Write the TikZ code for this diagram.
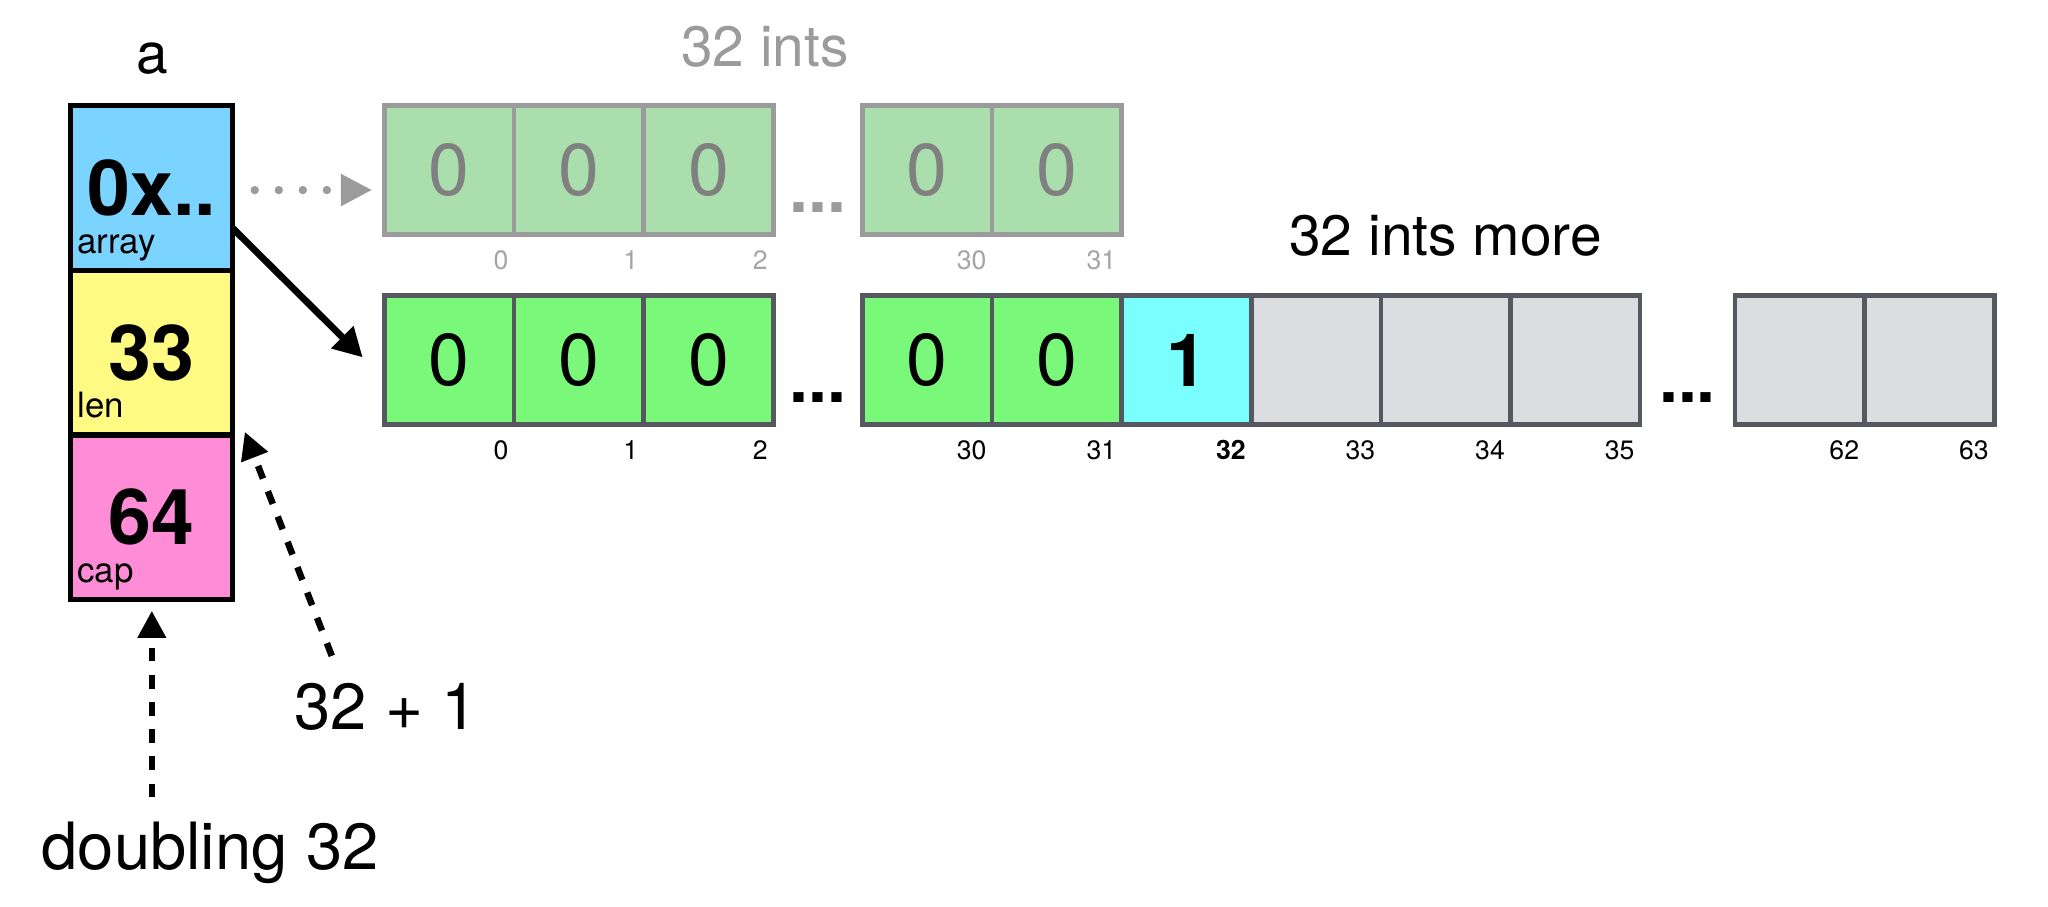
\documentclass[tikz,border=0pt]{standalone}
\usepackage{fontspec}
\setmainfont{TeX Gyre Heros}
\usepackage{tikz}
\usetikzlibrary{positioning}
\usetikzlibrary{arrows.meta}
\usetikzlibrary{calc}
\usepackage{color}

\definecolor{ptrblue}{RGB}{122,212,255}
\definecolor{lenyellow}{RGB}{255,250,130}
\definecolor{cappink}{RGB}{255,140,215}
\definecolor{zerogreen}{RGB}{122,248,122}
\definecolor{newcyan}{RGB}{122,255,255}
\definecolor{freegray}{RGB}{220,221,224}
\definecolor{framegray}{RGB}{85,89,95}
\definecolor{oldgreen}{RGB}{170,222,172}
\definecolor{oldframe}{RGB}{155,155,155}
\definecolor{oldtext}{RGB}{128,128,128}
\definecolor{oldlabel}{RGB}{165,165,165}

\begin{document}
\begin{tikzpicture}[
        field/.style={draw, rectangle, line width=1mm, outer sep=0pt, minimum width=31mm, minimum height=31.5mm, font=\fontsize{42}{42}\selectfont\bfseries},
        fieldname/.style={anchor=base west, inner sep=0pt, xshift=1.2mm, yshift=3.3mm, font=\fontsize{19}{19}\selectfont},
        slot/.style={draw=framegray, fill=zerogreen, rectangle, line width=0.9mm, outer sep=0pt, minimum width=24.8mm, minimum height=24.7mm, font=\fontsize{40}{40}\selectfont},
        oldslot/.style={slot, draw=oldframe, fill=oldgreen, text=oldtext},
        freeslot/.style={slot, fill=freegray},
        idx/.style={anchor=north east, inner sep=0pt, xshift=-1mm, yshift=-3mm, font=\fontsize{14.5}{14.5}\selectfont},
        oldidx/.style={idx, text=oldlabel},
        ellip/.style={anchor=south, inner sep=0pt, yshift=4.2mm, font=\fontsize{37}{37}\selectfont\bfseries},
        title/.style={inner sep=0pt, font=\fontsize{31}{31}\selectfont},
        note/.style={inner sep=0pt, font=\fontsize{35.5}{35.5}\selectfont},
        oldptr/.style={draw=oldframe, line width=1.6mm, line cap=round, dash pattern=on 0mm off 4.6mm, -{Triangle[length=6mm, width=5.75mm]}},
        newptr/.style={line width=1.3mm, -{Triangle[length=5.5mm, width=5.75mm]}},
        update/.style={line width=1.25mm, dash pattern=on 2.6mm off 2.6mm, -{Triangle[length=5.2mm, width=5.2mm]}}
      ]

    \useasboundingbox (0,0) rectangle (392mm,-173.5mm);

    \node[field, fill=ptrblue, label={[fieldname]south west:array}] (addr) at (29.06mm,-36mm) {0x..};
    \node[field, fill=lenyellow, below=0pt of addr, label={[fieldname]south west:len}] (len) {33};
    \node[field, fill=cappink, below=0pt of len, label={[fieldname]south west:cap}] (cap) {64};
    \node[title, above=6mm of addr] (name) {a};

    \node[oldslot, label={[oldidx]south east:0}] (o0) at (86mm,-32.56mm) {0};
    \node[oldslot, right=0pt of o0, label={[oldidx]south east:1}] (o1) {0};
    \node[oldslot, right=0pt of o1, label={[oldidx]south east:2}] (o2) {0};
    \node[oldslot, right=17.1mm of o2, label={[oldidx]south east:30}] (o30) {0};
    \node[oldslot, right=0pt of o30, label={[oldidx]south east:31}] (o31) {0};
    \node[ellip, text=oldframe] (odots) at ($(o2.south east)!0.5!(o30.south west)$) {...};
    \node[title, text=oldframe] (oldsize) at (146.4mm,-9mm) {32 ints};

    \node[slot, below=11.65mm of o0, label={[idx]south east:0}] (n0) {0};
    \node[slot, right=0pt of n0, label={[idx]south east:1}] (n1) {0};
    \node[slot, right=0pt of n1, label={[idx]south east:2}] (n2) {0};
    \node[slot, below=11.65mm of o30, label={[idx]south east:30}] (n30) {0};
    \node[slot, right=0pt of n30, label={[idx]south east:31}] (n31) {0};
    \node[slot, fill=newcyan, font=\fontsize{40}{40}\selectfont\bfseries, right=0pt of n31, label={[idx, font=\fontsize{14.5}{14.5}\selectfont\bfseries]south east:32}] (n32) {1};
    \node[freeslot, right=0pt of n32, label={[idx]south east:33}] (n33) {};
    \node[freeslot, right=0pt of n33, label={[idx]south east:34}] (n34) {};
    \node[freeslot, right=0pt of n34, label={[idx]south east:35}] (n35) {};
    \node[freeslot, right=18.2mm of n35, label={[idx]south east:62}] (n62) {};
    \node[freeslot, right=0pt of n62, label={[idx]south east:63}] (n63) {};
    \node[ellip] (ndots) at ($(n2.south east)!0.5!(n30.south west)$) {...};
    \node[ellip] (fdots) at ($(n35.south east)!0.5!(n62.south west)$) {...};
    \node[title, above=7.4mm of n34] (moresize) {32 ints more};

    \draw[oldptr, shorten <=4.2mm, shorten >=2.35mm] ([yshift=-0.4mm]addr.east) -- ([yshift=-3.8mm]o0.west);
    \draw[newptr, shorten >=5.9mm] ([yshift=-7.7mm]addr.east) -- ([yshift=-3.65mm]n0.west);

    \node[note] (plus) at (73.9mm,-135.25mm) {32 + 1};
    \node[note, anchor=base] (dbl) at (40.2mm,-166.5mm) {doubling 32};
    \draw[update, shorten <=5.5mm] ([xshift=-8.4mm]plus.north) -- ([shift={(2.3mm,0.6mm)}]len.south east);
    \draw[update, shorten <=4.75mm, shorten >=2.15mm] (cap |- dbl.north) -- (cap.south);

    \end{tikzpicture}
\end{document}
